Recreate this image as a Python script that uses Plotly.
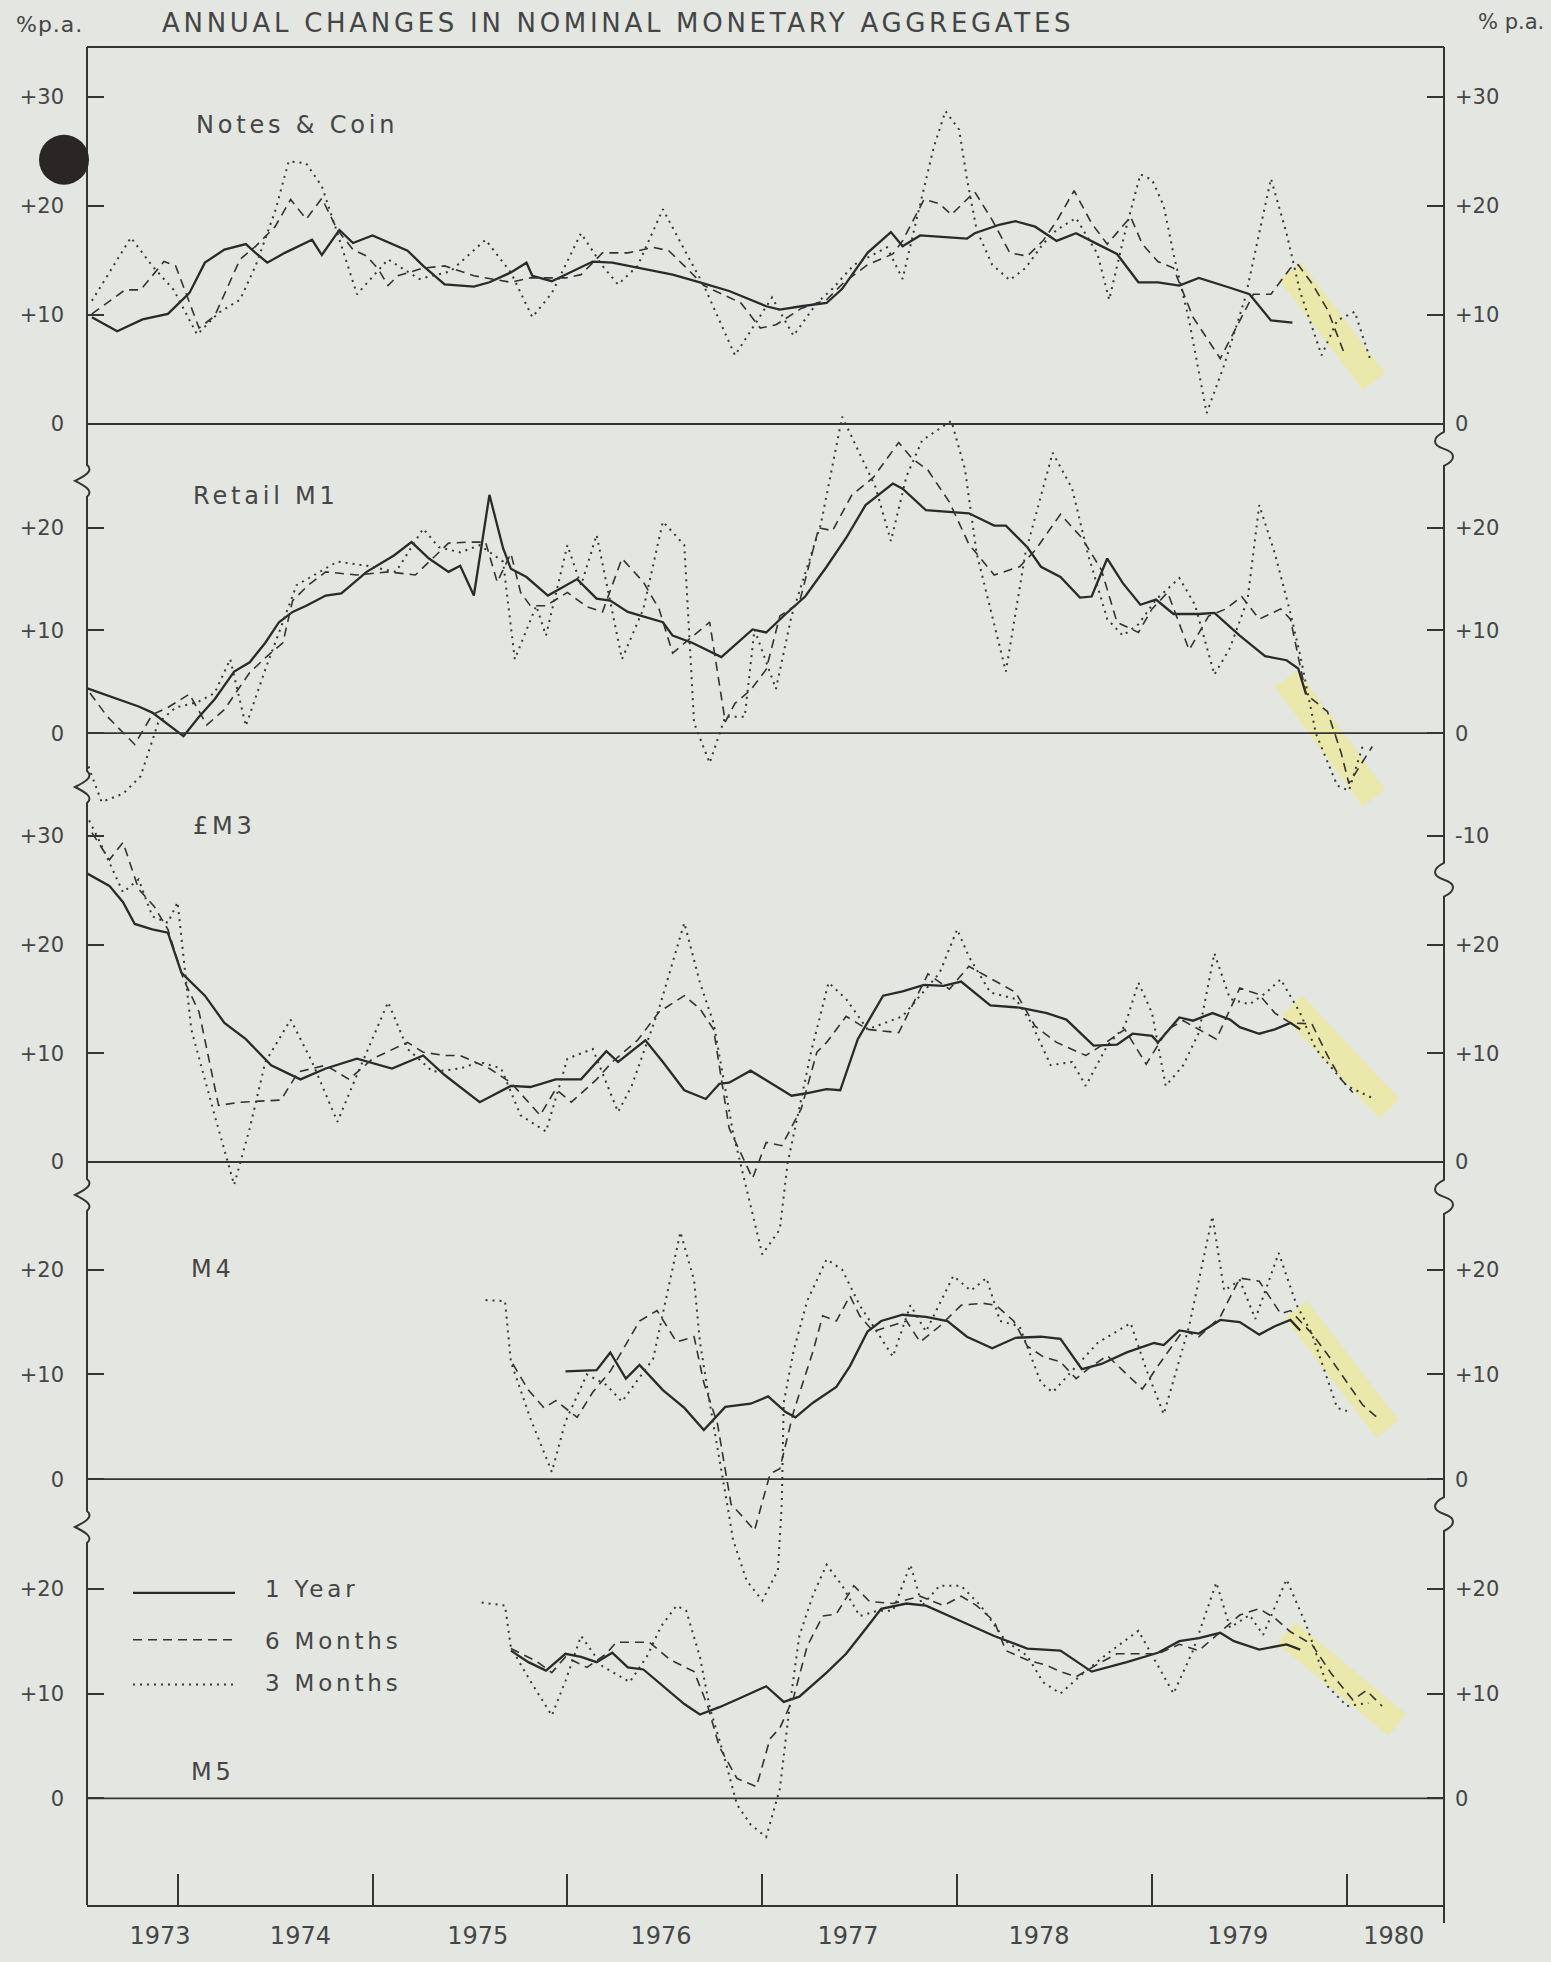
import plotly.graph_objects as go

# ---------------------------------------------------------------------------
# Annual changes in nominal monetary aggregates (% p.a.), 1973-1980
# Each series is a list of (year, % change) vertices.
# ---------------------------------------------------------------------------

YEAR_TICKS = [1974, 1975, 1976, 1977, 1978, 1979, 1980]
YEAR_LABELS = ["1973", "1974", "1975", "1976", "1977", "1978", "1979", "1980"]
YEAR_LABEL_POS = [1973.91, 1974.63, 1975.54, 1976.48, 1977.44, 1978.42, 1979.44, 1980.24]

PANEL_NAMES = ["Notes &amp; Coin", "Retail M1", "£M3", "M4", "M5"]
LEFT_TICKS = [[30, 20, 10, 0], [20, 10, 0], [30, 20, 10, 0], [20, 10, 0], [20, 10, 0]]
RIGHT_TICKS = [[30, 20, 10, 0], [20, 10, 0, -10], [20, 10, 0], [20, 10, 0], [20, 10, 0]]

# Notes & Coin
NC_1Y = [(1973.56, 9.8), (1973.69, 8.5), (1973.82, 9.6), (1973.95, 10.1), (1974.06, 12.0), (1974.14, 14.8),
         (1974.24, 16.0), (1974.35, 16.5), (1974.40, 15.7), (1974.46, 14.8), (1974.55, 15.7), (1974.69, 16.9),
         (1974.74, 15.5), (1974.83, 17.8), (1974.90, 16.6), (1975.00, 17.3), (1975.18, 15.9), (1975.26, 14.5),
         (1975.37, 12.8), (1975.52, 12.6), (1975.60, 13.0), (1975.71, 13.9), (1975.79, 14.8), (1975.82, 13.6),
         (1975.92, 13.1), (1976.13, 14.9), (1976.23, 14.8), (1976.54, 13.7), (1976.68, 13.0), (1976.83, 12.2),
         (1977.02, 10.8), (1977.09, 10.5), (1977.20, 10.8), (1977.33, 11.1), (1977.41, 12.4), (1977.54, 15.7),
         (1977.66, 17.6), (1977.72, 16.3), (1977.81, 17.3), (1977.96, 17.1), (1978.05, 17.0), (1978.09, 17.5),
         (1978.22, 18.3), (1978.30, 18.6), (1978.40, 18.1), (1978.51, 16.8), (1978.61, 17.5), (1978.72, 16.5),
         (1978.82, 15.6), (1978.93, 13.0), (1979.03, 13.0), (1979.14, 12.7), (1979.24, 13.4), (1979.40, 12.5),
         (1979.50, 11.9), (1979.61, 9.5), (1979.72, 9.3)]
NC_6M = [(1973.56, 10.1), (1973.73, 12.3), (1973.81, 12.3), (1973.93, 14.9), (1973.99, 14.5), (1974.11, 8.8),
         (1974.19, 9.9), (1974.32, 15.1), (1974.40, 16.3), (1974.50, 18.1), (1974.58, 20.6), (1974.66, 18.8),
         (1974.74, 20.7), (1974.82, 17.8), (1974.90, 16.0), (1974.97, 15.4), (1975.03, 14.2), (1975.08, 12.7),
         (1975.13, 13.6), (1975.26, 14.3), (1975.37, 14.5), (1975.52, 13.6), (1975.71, 13.0), (1975.81, 13.4),
         (1975.99, 13.4), (1976.07, 13.7), (1976.18, 15.7), (1976.31, 15.7), (1976.44, 16.2), (1976.52, 15.9),
         (1976.60, 14.5), (1976.70, 12.7), (1976.89, 11.1), (1976.99, 8.8), (1977.07, 9.1), (1977.20, 10.6),
         (1977.33, 11.4), (1977.42, 13.0), (1977.54, 14.6), (1977.67, 15.6), (1977.72, 16.8), (1977.83, 20.6),
         (1977.91, 20.2), (1977.97, 19.2), (1978.09, 21.3), (1978.18, 18.7), (1978.27, 15.7), (1978.36, 15.4),
         (1978.44, 16.8), (1978.51, 18.6), (1978.60, 21.4), (1978.69, 18.4), (1978.77, 16.5), (1978.89, 19.0),
         (1978.95, 16.5), (1979.03, 14.9), (1979.11, 14.3), (1979.21, 9.8), (1979.35, 6.0), (1979.52, 11.9),
         (1979.61, 11.9), (1979.71, 14.3), (1979.75, 14.6), (1979.82, 12.9), (1979.90, 10.5), (1979.99, 6.3)]
NC_3M = [(1973.56, 11.3), (1973.76, 17.1), (1973.87, 14.5), (1973.98, 12.3), (1974.10, 8.2), (1974.21, 10.2),
         (1974.32, 11.4), (1974.40, 14.5), (1974.50, 19.5), (1974.57, 24.1), (1974.66, 23.9), (1974.74, 21.8),
         (1974.82, 17.5), (1974.92, 11.9), (1975.08, 15.1), (1975.24, 13.3), (1975.40, 14.0), (1975.58, 16.9),
         (1975.71, 13.9), (1975.82, 9.8), (1975.92, 12.0), (1976.07, 17.5), (1976.18, 14.5), (1976.26, 12.8),
         (1976.36, 14.5), (1976.49, 19.7), (1976.60, 16.0), (1976.70, 12.7), (1976.86, 6.3), (1977.05, 11.6),
         (1977.16, 8.1), (1977.28, 11.1), (1977.36, 12.4), (1977.47, 14.6), (1977.64, 16.2), (1977.72, 13.3),
         (1977.80, 19.4), (1977.88, 25.4), (1977.94, 28.7), (1978.01, 27.0), (1978.05, 22.5), (1978.10, 17.8),
         (1978.18, 14.6), (1978.27, 13.2), (1978.35, 14.3), (1978.44, 16.5), (1978.51, 17.8), (1978.61, 18.9),
         (1978.72, 15.6), (1978.78, 11.4), (1978.86, 17.5), (1978.94, 22.9), (1979.00, 22.4), (1979.06, 20.0),
         (1979.11, 15.6), (1979.19, 9.5), (1979.28, 1.0), (1979.37, 5.4), (1979.48, 11.7), (1979.55, 17.5),
         (1979.61, 22.5), (1979.69, 17.5), (1979.76, 12.1), (1979.87, 6.3), (1979.95, 9.5), (1980.04, 10.3),
         (1980.12, 5.9)]

# Retail M1
RM_1Y = [(1973.53, 4.4), (1973.80, 2.6), (1973.87, 2.0), (1974.03, -0.3), (1974.11, 1.6), (1974.19, 3.3),
         (1974.29, 6.0), (1974.37, 6.9), (1974.45, 8.8), (1974.52, 10.8), (1974.59, 11.8), (1974.66, 12.4),
         (1974.76, 13.4), (1974.84, 13.6), (1974.97, 15.7), (1975.11, 17.3), (1975.20, 18.6), (1975.29, 17.0),
         (1975.39, 15.7), (1975.45, 16.3), (1975.52, 13.4), (1975.60, 23.2), (1975.67, 18.0), (1975.71, 16.0),
         (1975.79, 15.2), (1975.90, 13.4), (1976.05, 15.0), (1976.15, 13.1), (1976.22, 12.9), (1976.31, 11.8),
         (1976.49, 10.8), (1976.54, 9.5), (1976.64, 8.8), (1976.79, 7.4), (1976.95, 10.1), (1977.02, 9.8),
         (1977.12, 11.6), (1977.22, 13.3), (1977.33, 16.2), (1977.43, 19.0), (1977.53, 22.2), (1977.67, 24.3),
         (1977.72, 23.8), (1977.84, 21.7), (1978.06, 21.4), (1978.19, 20.2), (1978.25, 20.2), (1978.36, 18.1),
         (1978.43, 16.2), (1978.53, 15.2), (1978.63, 13.2), (1978.69, 13.3), (1978.77, 17.0), (1978.85, 14.6),
         (1978.94, 12.5), (1979.02, 13.0), (1979.11, 11.6), (1979.24, 11.6), (1979.32, 11.7), (1979.45, 9.5),
         (1979.58, 7.5), (1979.69, 7.1), (1979.75, 6.3), (1979.79, 3.8)]
RM_6M = [(1973.55, 3.9), (1973.64, 1.6), (1973.78, -1.1), (1973.87, 1.8), (1973.95, 2.5), (1974.06, 3.8),
         (1974.15, 0.8), (1974.24, 2.3), (1974.37, 5.9), (1974.46, 7.5), (1974.54, 8.8), (1974.59, 12.9),
         (1974.67, 14.4), (1974.76, 15.7), (1974.92, 15.4), (1975.08, 15.7), (1975.22, 15.4), (1975.31, 17.0),
         (1975.39, 18.5), (1975.50, 18.6), (1975.58, 18.6), (1975.64, 14.7), (1975.71, 17.5), (1975.76, 13.7),
         (1975.81, 12.4), (1975.89, 12.4), (1976.00, 13.7), (1976.10, 12.3), (1976.18, 11.8), (1976.28, 17.0),
         (1976.39, 14.7), (1976.47, 12.1), (1976.54, 7.8), (1976.73, 10.8), (1976.81, 1.1), (1976.86, 2.9),
         (1976.94, 4.2), (1977.02, 6.2), (1977.09, 11.4), (1977.19, 12.7), (1977.29, 20.0), (1977.36, 19.7),
         (1977.46, 23.2), (1977.57, 24.9), (1977.70, 28.3), (1977.77, 26.7), (1977.85, 25.6), (1977.96, 22.5),
         (1978.06, 18.4), (1978.19, 15.4), (1978.32, 16.2), (1978.40, 17.8), (1978.53, 21.3), (1978.64, 19.0),
         (1978.74, 15.9), (1978.82, 10.8), (1978.93, 9.8), (1979.00, 12.1), (1979.08, 13.7), (1979.19, 8.1),
         (1979.29, 11.4), (1979.38, 12.1), (1979.46, 13.3), (1979.55, 11.1), (1979.66, 12.1), (1979.71, 11.1),
         (1979.79, 3.8), (1979.90, 2.1), (1979.97, -1.9), (1980.01, -4.9), (1980.13, -1.3)]
RM_3M = [(1973.53, -2.6), (1973.61, -6.7), (1973.72, -5.9), (1973.81, -4.2), (1973.90, 1.0), (1973.99, 2.5),
         (1974.10, 3.0), (1974.19, 3.9), (1974.27, 7.2), (1974.35, 0.7), (1974.45, 6.2), (1974.61, 14.4),
         (1974.82, 16.7), (1974.97, 16.3), (1975.12, 15.7), (1975.26, 19.9), (1975.34, 18.1), (1975.45, 17.6),
         (1975.55, 18.3), (1975.67, 16.7), (1975.73, 7.2), (1975.84, 12.4), (1975.89, 9.5), (1976.00, 18.3),
         (1976.07, 14.4), (1976.15, 19.3), (1976.28, 7.2), (1976.39, 12.1), (1976.49, 20.6), (1976.60, 18.3),
         (1976.65, 1.0), (1976.73, -2.9), (1976.81, 1.6), (1976.91, 1.6), (1976.96, 10.1), (1977.07, 4.3),
         (1977.15, 11.4), (1977.30, 20.3), (1977.41, 30.8), (1977.49, 27.6), (1977.58, 24.0), (1977.66, 18.7),
         (1977.74, 25.0), (1977.82, 28.5), (1977.97, 30.4), (1978.04, 25.7), (1978.10, 17.5), (1978.25, 6.0),
         (1978.35, 17.5), (1978.49, 27.3), (1978.59, 23.8), (1978.67, 17.5), (1978.77, 11.1), (1978.85, 9.5),
         (1978.93, 10.6), (1979.02, 13.0), (1979.14, 15.1), (1979.22, 12.5), (1979.32, 5.7), (1979.40, 8.3),
         (1979.49, 13.0), (1979.55, 22.2), (1979.63, 17.5), (1979.71, 11.7), (1979.76, 7.6), (1979.84, 0.0),
         (1979.95, -5.1), (1980.01, -5.6), (1980.08, -1.3)]

# Sterling M3
GM3_1Y = [(1973.53, 26.6), (1973.65, 25.4), (1973.72, 23.9), (1973.78, 21.9), (1973.87, 21.4), (1973.95, 21.1),
          (1974.02, 17.4), (1974.14, 15.3), (1974.24, 12.8), (1974.35, 11.3), (1974.48, 8.9), (1974.63, 7.6),
          (1974.76, 8.6), (1974.92, 9.5), (1975.10, 8.6), (1975.26, 9.8), (1975.37, 8.0), (1975.55, 5.5),
          (1975.71, 7.0), (1975.81, 6.9), (1975.94, 7.6), (1976.07, 7.6), (1976.20, 10.2), (1976.26, 9.2),
          (1976.40, 11.2), (1976.49, 9.2), (1976.60, 6.6), (1976.71, 5.8), (1976.78, 7.2), (1976.83, 7.3),
          (1976.94, 8.4), (1977.04, 7.3), (1977.15, 6.1), (1977.22, 6.3), (1977.33, 6.7), (1977.40, 6.6),
          (1977.49, 11.3), (1977.62, 15.3), (1977.72, 15.7), (1977.83, 16.3), (1977.93, 16.2), (1978.02, 16.6),
          (1978.09, 15.6), (1978.17, 14.4), (1978.32, 14.2), (1978.46, 13.7), (1978.56, 13.1), (1978.70, 10.7),
          (1978.82, 10.8), (1978.90, 11.8), (1979.00, 11.6), (1979.03, 11.0), (1979.14, 13.3), (1979.21, 13.0),
          (1979.31, 13.7), (1979.40, 13.1), (1979.45, 12.4), (1979.55, 11.8), (1979.63, 12.2), (1979.71, 12.8),
          (1979.76, 12.2)]
GM3_6M = [(1973.56, 30.3), (1973.65, 27.8), (1973.72, 29.4), (1973.80, 25.1), (1973.88, 23.5), (1973.95, 21.4),
          (1974.03, 16.8), (1974.11, 13.8), (1974.21, 5.2), (1974.32, 5.5), (1974.53, 5.7), (1974.62, 8.3),
          (1974.76, 8.9), (1974.88, 7.6), (1975.00, 9.5), (1975.18, 11.0), (1975.26, 10.1), (1975.37, 9.8),
          (1975.45, 9.8), (1975.60, 8.6), (1975.71, 7.3), (1975.86, 4.3), (1975.94, 6.7), (1976.02, 5.5),
          (1976.15, 7.6), (1976.23, 9.2), (1976.36, 11.2), (1976.47, 13.8), (1976.60, 15.3), (1976.68, 14.1),
          (1976.75, 12.2), (1976.83, 3.1), (1976.95, -1.5), (1977.02, 1.8), (1977.10, 1.5), (1977.20, 4.9),
          (1977.28, 10.1), (1977.33, 11.0), (1977.43, 13.4), (1977.54, 12.2), (1977.70, 11.9), (1977.85, 17.3),
          (1977.96, 15.9), (1978.06, 18.0), (1978.30, 15.6), (1978.40, 12.5), (1978.51, 11.0), (1978.66, 9.8),
          (1978.74, 10.7), (1978.86, 12.2), (1978.97, 9.0), (1979.08, 12.2), (1979.16, 13.0), (1979.27, 11.9),
          (1979.33, 11.3), (1979.45, 16.0), (1979.55, 15.4), (1979.63, 13.7), (1979.71, 12.8), (1979.82, 12.7),
          (1979.90, 9.8), (1979.97, 7.6), (1980.03, 6.4)]
GM3_3M = [(1973.53, 32.0), (1973.61, 29.1), (1973.72, 24.8), (1973.80, 26.0), (1973.87, 22.6), (1973.95, 22.0),
          (1974.00, 23.9), (1974.07, 12.2), (1974.19, 4.3), (1974.29, -2.1), (1974.37, 3.1), (1974.45, 9.2),
          (1974.58, 13.1), (1974.69, 9.2), (1974.82, 3.7), (1974.92, 8.0), (1975.08, 14.7), (1975.18, 10.4),
          (1975.31, 8.3), (1975.45, 8.6), (1975.55, 9.2), (1975.66, 8.6), (1975.76, 4.3), (1975.89, 2.8),
          (1976.00, 9.5), (1976.13, 10.4), (1976.26, 4.6), (1976.33, 7.0), (1976.47, 14.1), (1976.60, 22.0),
          (1976.68, 16.5), (1976.75, 12.8), (1976.85, 2.7), (1976.92, -2.5), (1977.00, -8.5), (1977.09, -6.2),
          (1977.13, -0.1), (1977.20, 5.8), (1977.25, 10.1), (1977.34, 16.5), (1977.43, 15.0), (1977.54, 12.2),
          (1977.72, 13.4), (1977.91, 17.4), (1978.00, 21.4), (1978.06, 18.9), (1978.17, 15.6), (1978.30, 15.0),
          (1978.38, 12.8), (1978.48, 8.9), (1978.59, 9.2), (1978.66, 7.0), (1978.77, 10.7), (1978.86, 12.5),
          (1978.93, 16.5), (1979.00, 13.7), (1979.07, 7.0), (1979.16, 8.9), (1979.24, 11.9), (1979.32, 19.2),
          (1979.40, 15.0), (1979.50, 14.5), (1979.58, 15.5), (1979.66, 16.8), (1979.76, 13.7), (1979.84, 10.4),
          (1980.00, 7.0), (1980.14, 5.8)]

# M4
M4_1Y = [(1975.99, 10.3), (1976.15, 10.4), (1976.22, 12.1), (1976.30, 9.6), (1976.37, 10.9), (1976.49, 8.5),
         (1976.60, 6.8), (1976.70, 4.7), (1976.81, 6.9), (1976.94, 7.2), (1977.03, 7.9), (1977.12, 6.4),
         (1977.17, 5.9), (1977.26, 7.3), (1977.38, 8.8), (1977.45, 10.8), (1977.54, 14.1), (1977.61, 15.1),
         (1977.72, 15.7), (1977.84, 15.5), (1977.95, 15.1), (1978.05, 13.6), (1978.18, 12.5), (1978.30, 13.5),
         (1978.43, 13.6), (1978.53, 13.4), (1978.64, 10.5), (1978.74, 11.0), (1978.87, 12.1), (1979.01, 13.0),
         (1979.06, 12.8), (1979.14, 14.2), (1979.24, 13.9), (1979.35, 15.2), (1979.45, 15.0), (1979.55, 13.8),
         (1979.63, 14.6), (1979.71, 15.2), (1979.76, 14.2)]
M4_6M = [(1975.72, 11.0), (1975.80, 8.5), (1975.88, 6.8), (1975.94, 7.5), (1976.05, 5.9), (1976.13, 8.3),
         (1976.22, 10.3), (1976.31, 13.1), (1976.37, 15.1), (1976.46, 16.1), (1976.56, 13.1), (1976.65, 13.6),
         (1976.70, 9.2), (1976.77, 5.3), (1976.84, -2.4), (1976.90, -3.6), (1976.96, -4.9), (1977.04, 0.5),
         (1977.09, 1.0), (1977.16, 6.4), (1977.26, 12.2), (1977.31, 15.6), (1977.38, 15.1), (1977.45, 17.5),
         (1977.50, 15.6), (1977.57, 14.1), (1977.66, 14.6), (1977.74, 15.1), (1977.81, 13.1), (1977.91, 14.6),
         (1978.02, 16.6), (1978.13, 16.8), (1978.20, 16.6), (1978.29, 15.1), (1978.36, 12.7), (1978.44, 11.7),
         (1978.53, 11.2), (1978.61, 9.6), (1978.67, 10.5), (1978.77, 11.8), (1978.95, 8.6), (1979.03, 10.8),
         (1979.16, 14.2), (1979.24, 13.6), (1979.35, 15.5), (1979.45, 19.2), (1979.55, 18.9), (1979.66, 15.8),
         (1979.71, 16.1), (1979.82, 13.9), (1979.92, 11.4), (1980.08, 7.1), (1980.16, 5.8)]
M4_3M = [(1975.58, 17.1), (1975.68, 17.0), (1975.71, 11.2), (1975.81, 5.8), (1975.92, 0.7), (1975.99, 5.5),
         (1976.10, 10.0), (1976.20, 9.0), (1976.28, 7.4), (1976.44, 11.5), (1976.58, 23.6), (1976.65, 19.0),
         (1976.68, 13.1), (1976.73, 7.3), (1976.82, -2.4), (1976.85, -5.8), (1976.92, -9.7), (1977.00, -11.6),
         (1977.08, -8.7), (1977.10, -2.4), (1977.11, 7.3), (1977.16, 12.2), (1977.23, 17.0), (1977.33, 21.0),
         (1977.41, 20.0), (1977.50, 16.6), (1977.57, 14.6), (1977.67, 11.7), (1977.76, 16.6), (1977.84, 14.1),
         (1977.98, 19.4), (1978.07, 18.0), (1978.15, 19.2), (1978.22, 15.1), (1978.32, 14.6), (1978.43, 9.2),
         (1978.49, 8.3), (1978.60, 10.5), (1978.72, 13.0), (1978.89, 14.9), (1978.97, 10.5), (1979.06, 6.2),
         (1979.19, 14.6), (1979.31, 25.1), (1979.37, 18.0), (1979.45, 19.0), (1979.53, 15.3), (1979.65, 21.6),
         (1979.74, 16.7), (1979.82, 13.9), (1979.90, 9.6), (1979.95, 6.8), (1980.00, 6.5)]

# M5
M5_1Y = [(1975.71, 14.1), (1975.80, 13.0), (1975.89, 12.2), (1975.99, 13.8), (1976.07, 13.5), (1976.15, 13.0),
         (1976.23, 13.9), (1976.31, 12.5), (1976.39, 12.3), (1976.51, 10.4), (1976.60, 9.0), (1976.68, 8.0),
         (1976.78, 8.7), (1976.89, 9.6), (1977.02, 10.7), (1977.11, 9.2), (1977.19, 9.7), (1977.33, 12.0),
         (1977.43, 13.8), (1977.54, 16.4), (1977.61, 18.1), (1977.74, 18.6), (1977.84, 18.4), (1978.02, 16.9),
         (1978.19, 15.5), (1978.36, 14.3), (1978.53, 14.1), (1978.69, 12.1), (1978.87, 13.0), (1979.03, 13.9),
         (1979.14, 15.0), (1979.24, 15.3), (1979.35, 15.8), (1979.42, 15.0), (1979.55, 14.2), (1979.69, 14.7),
         (1979.76, 14.2)]
M5_6M = [(1975.71, 14.3), (1975.84, 13.1), (1975.92, 12.0), (1975.99, 13.5), (1976.10, 12.5), (1976.20, 13.8),
         (1976.25, 14.9), (1976.42, 14.9), (1976.53, 13.2), (1976.65, 12.1), (1976.72, 8.8), (1976.78, 4.9),
         (1976.87, 1.9), (1976.97, 1.1), (1977.04, 5.7), (1977.09, 6.7), (1977.16, 9.6), (1977.23, 14.5),
         (1977.31, 17.4), (1977.38, 17.6), (1977.47, 20.3), (1977.55, 18.8), (1977.67, 18.6), (1977.81, 19.3),
         (1977.93, 18.4), (1978.02, 19.3), (1978.10, 18.4), (1978.19, 16.9), (1978.25, 14.1), (1978.36, 13.2),
         (1978.46, 12.7), (1978.53, 12.1), (1978.61, 11.6), (1978.72, 12.8), (1978.82, 13.8), (1979.03, 13.8),
         (1979.14, 14.7), (1979.24, 14.1), (1979.45, 17.5), (1979.55, 18.1), (1979.63, 17.2), (1979.71, 15.9),
         (1979.82, 14.7), (1979.92, 11.9), (1980.03, 9.4), (1980.10, 10.3), (1980.18, 8.8)]
M5_3M = [(1975.56, 18.7), (1975.68, 18.4), (1975.71, 14.4), (1975.81, 11.2), (1975.92, 7.9), (1975.99, 11.2),
         (1976.07, 15.5), (1976.18, 12.6), (1976.32, 11.1), (1976.41, 13.6), (1976.48, 16.4), (1976.56, 18.4),
         (1976.61, 17.9), (1976.68, 13.5), (1976.73, 8.7), (1976.80, 4.3), (1976.87, -0.6), (1976.94, -2.5),
         (1977.02, -3.7), (1977.09, 0.9), (1977.14, 8.7), (1977.19, 15.5), (1977.26, 19.4), (1977.33, 22.3),
         (1977.41, 20.3), (1977.50, 17.4), (1977.59, 17.9), (1977.67, 17.9), (1977.76, 22.3), (1977.82, 18.4),
         (1977.91, 20.3), (1978.02, 20.3), (1978.12, 18.4), (1978.25, 15.0), (1978.36, 13.6), (1978.44, 11.1),
         (1978.53, 10.0), (1978.65, 12.0), (1978.77, 13.8), (1978.93, 16.0), (1979.11, 10.0), (1979.21, 14.1),
         (1979.33, 20.6), (1979.40, 16.3), (1979.50, 17.5), (1979.57, 15.6), (1979.69, 20.9), (1979.79, 16.6),
         (1979.90, 10.7), (1980.00, 8.8), (1980.11, 9.1)]

# Hand-marked latest movements (highlighter strokes): (year, value) start and end
HIGHLIGHTS = [[(1979.71, 14.0), (1980.14, 3.9)],
              [(1979.69, 5.3), (1980.14, -6.3)],
              [(1979.72, 14.4), (1980.22, 4.9)],
              [(1979.74, 16.2), (1980.21, 4.8)],
              [(1979.69, 15.8), (1980.26, 7.0)]]

PANEL_SERIES = [(NC_1Y, NC_6M, NC_3M), (RM_1Y, RM_6M, RM_3M), (GM3_1Y, GM3_6M, GM3_3M),
                (M4_1Y, M4_6M, M4_3M), (M5_1Y, M5_6M, M5_3M)]

# ---------------------------------------------------------------------------
# Page geometry (pixels) and styling
# ---------------------------------------------------------------------------
W, H = 1551, 1962
PLOT_L, PLOT_R, PLOT_T, PLOT_B = 87, 1444, 47, 1910
X_RANGE = [1973.535, 1980.498]
PANEL_ZERO_PX = [425, 735, 1165, 1483, 1803]     # pixel row of each panel's zero line
PANEL_PX_PER_UNIT = [10.93, 10.3, 10.9, 10.5, 10.5]
LEFT_BREAKS_PX = [482, 789, 1198, 1531]
RIGHT_BREAKS_PX = [450, 882, 1200, 1518]

BG = "#e3e6e1"
INK = "#353535"
TEXT = "#454545"
FONT = "DejaVu Sans"

LINE_STYLES = [dict(color="#2a2a2a", width=2.3),
               dict(color="#333333", width=1.6, dash="9px,6px"),
               dict(color="#363636", width=2.0, dash="2px,5px")]
LEGEND_TEXT = ["1 Year", "6 Months", "3 Months"]


def px_paper(x, y):
    return (x - PLOT_L) / (PLOT_R - PLOT_L), (PLOT_B - y) / (PLOT_B - PLOT_T)


def P(x, y):
    px, py = px_paper(x, y)
    return f"{px:.5f},{py:.5f}"


def spaced(text, sp):
    return f'<span style="letter-spacing:{sp}px">{text}</span>'


def sign_label(v):
    return "0" if v == 0 else (f"+{v}" if v > 0 else f"{v}")


fig = go.Figure()

# --- data traces -----------------------------------------------------------
for i, series in enumerate(PANEL_SERIES):
    yref = "y" if i == 0 else f"y{i + 1}"
    for s, style in zip(series, LINE_STYLES):
        fig.add_trace(go.Scatter(x=[p[0] for p in s], y=[p[1] for p in s], mode="lines",
                                 line=style, xaxis="x", yaxis=yref,
                                 showlegend=False, hoverinfo="skip"))

# empty traces to register right-hand value axes and the year-label axis
for i in range(5):
    fig.add_trace(go.Scatter(x=[], y=[], xaxis="x", yaxis=f"y{i + 6}", showlegend=False))
fig.add_trace(go.Scatter(x=[], y=[], xaxis="x2", yaxis="y", showlegend=False))

# --- axes -------------------------------------------------------------------
layout_axes = {}
tickfont = dict(family=FONT, size=21, color=TEXT)
for i in range(5):
    z, s = PANEL_ZERO_PX[i], PANEL_PX_PER_UNIT[i]
    rng = [-(PLOT_B - z) / s, (z - PLOT_T) / s]
    common = dict(range=rng, autorange=False, showgrid=False, zeroline=False, showline=False,
                  ticks="inside", ticklen=17, tickwidth=2, tickcolor=INK,
                  tickfont=tickfont, fixedrange=True, anchor="x")
    left = dict(common, side="left", tickvals=LEFT_TICKS[i],
                ticktext=[sign_label(v) for v in LEFT_TICKS[i]], ticklabelstandoff=22)
    if i > 0:
        left["overlaying"] = "y"
    right = dict(common, side="right", overlaying="y", tickvals=RIGHT_TICKS[i],
                 ticktext=[sign_label(v) for v in RIGHT_TICKS[i]], ticklabelstandoff=10)
    layout_axes["yaxis" if i == 0 else f"yaxis{i + 1}"] = left
    layout_axes[f"yaxis{i + 6}"] = right

layout_axes["xaxis"] = dict(range=X_RANGE, autorange=False, tickvals=YEAR_TICKS, showticklabels=False,
                            ticks="inside", ticklen=31, tickwidth=2, tickcolor=INK,
                            showline=True, linewidth=2, linecolor=INK,
                            showgrid=False, zeroline=False, fixedrange=True)
layout_axes["xaxis2"] = dict(range=X_RANGE, autorange=False, overlaying="x", side="bottom", anchor="y",
                             tickvals=YEAR_LABEL_POS, ticktext=YEAR_LABELS, ticks="", showline=False,
                             showgrid=False, zeroline=False, fixedrange=True, ticklabelstandoff=14,
                             tickfont=dict(family=FONT, size=24, color=TEXT))

# --- shapes -----------------------------------------------------------------
shapes = []

# highlighter strokes
for i, ((x0, y0), (x1, y1)) in enumerate(HIGHLIGHTS):
    yref = "y" if i == 0 else f"y{i + 1}"
    shapes.append(dict(type="line", xref="x", yref=yref, x0=x0, y0=y0, x1=x1, y1=y1, layer="below",
                       line=dict(color="rgba(240,234,125,0.55)", width=28)))

# zero line of each panel
for i in range(5):
    yref = "y" if i == 0 else f"y{i + 1}"
    shapes.append(dict(type="line", xref="paper", yref=yref, x0=0, x1=1, y0=0, y1=0,
                       line=dict(color=INK, width=1.8)))


def left_kink(x, yc, h=16, w=12):
    return (f" L{P(x, yc - h)} C{P(x + 7, yc - h + 6)} {P(x - 2, yc - 5)} {P(x - w, yc)}"
            f" C{P(x - 2, yc + 5)} {P(x + 7, yc + h - 6)} {P(x, yc + h)}")


def right_kink(x, yc, h=17, w=12):
    return (f" L{P(x, yc - h)} C{P(x - w, yc - h + 6)} {P(x - w, yc - 4)} {P(x, yc)}"
            f" C{P(x + w, yc + 4)} {P(x + w, yc + h - 6)} {P(x, yc + h)}")


left_path = f"M{P(PLOT_L, PLOT_T)}" + "".join(left_kink(PLOT_L, yc) for yc in LEFT_BREAKS_PX) + f" L{P(PLOT_L, PLOT_B)}"
right_path = f"M{P(PLOT_R, PLOT_T)}" + "".join(right_kink(PLOT_R, yc) for yc in RIGHT_BREAKS_PX) + f" L{P(PLOT_R, 1928)}"
for path in (left_path, right_path):
    shapes.append(dict(type="path", xref="paper", yref="paper", path=path, line=dict(color=INK, width=2)))

# top frame line
x0p, y0p = px_paper(PLOT_L, PLOT_T)
x1p, _ = px_paper(PLOT_R, PLOT_T)
shapes.append(dict(type="line", xref="paper", yref="paper", x0=x0p, x1=x1p, y0=y0p, y1=y0p,
                   line=dict(color=INK, width=2)))

# punched filing hole
cx0, cy0 = px_paper(39, 135)
cx1, cy1 = px_paper(89, 185)
shapes.append(dict(type="circle", xref="paper", yref="paper", x0=cx0, x1=cx1, y0=cy1, y1=cy0,
                   fillcolor="#2a2626", line=dict(width=0)))

# legend samples
LEGEND_Y_PX = [1597, 1644, 1689]
for ypx, style in zip(LEGEND_Y_PX, LINE_STYLES):
    lx0, ly = px_paper(133, ypx)
    lx1, _ = px_paper(235, ypx)
    shapes.append(dict(type="line", xref="paper", yref="paper", x0=lx0, x1=lx1, y0=ly, y1=ly,
                       line=style))

# --- text -------------------------------------------------------------------
annotations = []


def add_text(text, x, y, size, anchor="left", sp=0):
    xp, yp = px_paper(x, y)
    annotations.append(dict(text=spaced(text, sp) if sp else text, x=xp, y=yp, xref="paper", yref="paper",
                            xanchor=anchor, yanchor="middle", showarrow=False,
                            font=dict(family=FONT, size=size, color=TEXT)))


add_text("%p.a.", 14, 24, 22, sp=1)
add_text("ANNUAL CHANGES IN NOMINAL MONETARY AGGREGATES", 160, 23, 26, sp=3.7)
add_text("% p.a.", 1546, 22, 21, anchor="right")

PANEL_LABEL_PX = [(194, 125), (191, 497), (191, 828), (189, 1272), (189, 1777)]
for name, (x, y) in zip(PANEL_NAMES, PANEL_LABEL_PX):
    add_text(name, x, y, 24, sp=3.8)

for ypx, txt in zip([1593, 1645, 1687], LEGEND_TEXT):
    add_text(txt, 263, ypx, 23, sp=3.8)

fig.update_layout(width=W, height=H, autosize=False,
                  margin=dict(l=PLOT_L, r=W - PLOT_R, t=PLOT_T, b=H - PLOT_B, pad=0),
                  paper_bgcolor=BG, plot_bgcolor=BG, showlegend=False,
                  shapes=shapes, annotations=annotations, **layout_axes)

fig.write_html("out.html")
